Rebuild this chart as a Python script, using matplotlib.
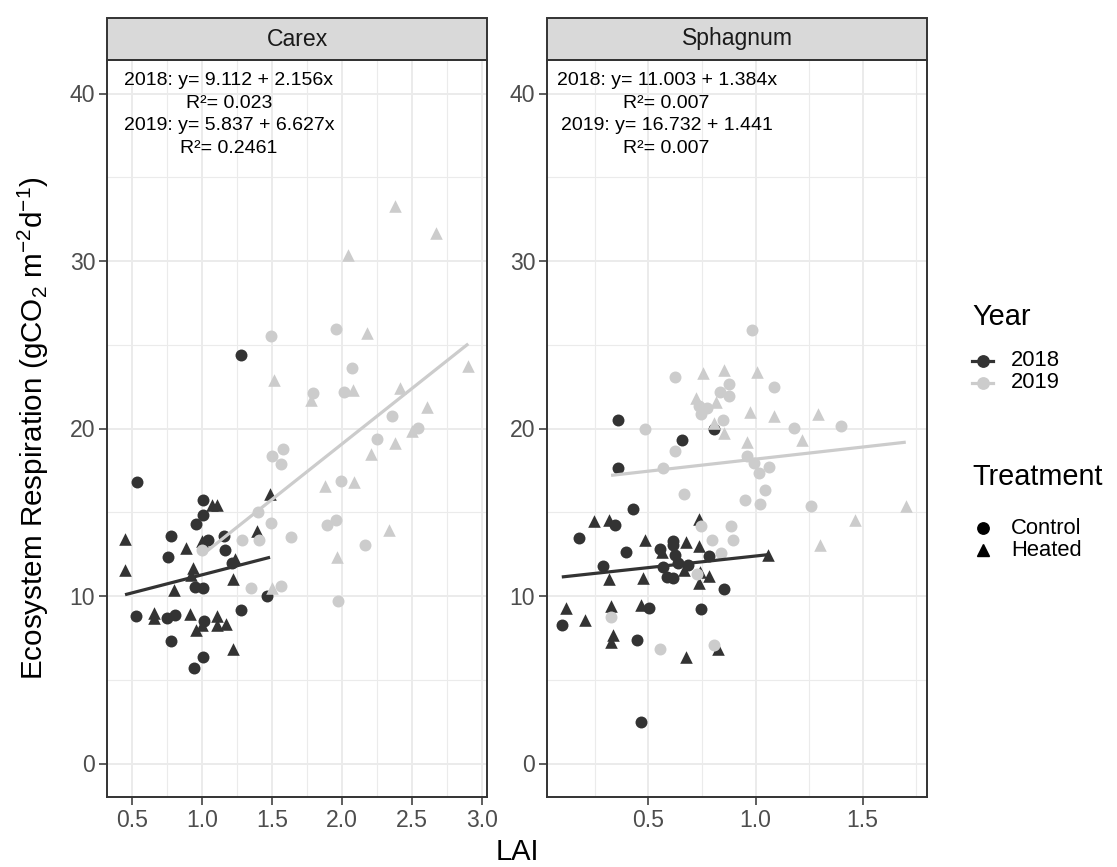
import matplotlib
matplotlib.use("Agg")
import matplotlib.pyplot as plt
from matplotlib.patches import Rectangle
from matplotlib.lines import Line2D
import numpy as np

plt.rcParams['font.family'] = ['Liberation Sans', 'DejaVu Sans']
plt.rcParams['mathtext.fontset'] = 'custom'
plt.rcParams['mathtext.rm'] = 'Liberation Sans'
plt.rcParams['mathtext.it'] = 'Liberation Sans:italic'
plt.rcParams['mathtext.default'] = 'regular'

# ---------------- data ----------------
panels = ["Carex", "Sphagnum"]

# Carex
carex_2018_control_lai = [1.274, 0.536, 1.005, 1.005, 0.955, 0.776, 1.043, 1.155, 1.164, 0.755, 1.214,
                          0.948, 1.006, 1.464, 0.526, 0.746, 0.807, 1.012, 1.274, 0.776, 1.007, 0.939]
carex_2018_control_er = [24.4, 16.8, 15.74, 14.86, 14.3, 13.6, 13.32, 13.56, 12.76, 12.32, 11.96,
                         10.52, 10.46, 9.98, 8.78, 8.7, 8.86, 8.5, 9.16, 7.32, 6.36, 5.72]
carex_2018_heated_lai = [1.067, 1.107, 1.484, 0.448, 1.393, 0.996, 0.884, 1.234, 0.448, 0.936, 0.917,
                         1.221, 0.798, 0.655, 0.655, 0.914, 0.955, 0.995, 1.103, 1.107, 1.169, 1.221]
carex_2018_heated_er = [15.46, 15.46, 16.06, 13.42, 13.86, 13.26, 12.86, 12.2, 11.56, 11.66, 11.26,
                        11.02, 10.36, 9.0, 8.66, 8.9, 7.96, 8.26, 8.8, 8.26, 8.32, 6.86]
carex_2019_control_lai = [1.493, 1.953, 2.071, 1.793, 2.012, 2.353, 2.543, 2.246, 1.498, 1.574, 1.562, 1.993,
                          1.400, 1.489, 1.889, 1.953, 1.281, 1.407, 1.631, 2.164, 0.996, 1.345, 1.560, 1.969]
carex_2019_control_er = [25.55, 25.97, 23.6, 22.1, 22.17, 20.74, 20.02, 19.4, 18.33, 18.78, 17.86, 16.86,
                         15.0, 14.36, 14.26, 14.56, 13.36, 13.36, 13.5, 13.02, 12.76, 10.46, 10.62, 9.72]
carex_2019_heated_lai = [2.174, 1.512, 1.774, 2.079, 2.412, 2.603, 2.496, 2.376, 2.203, 2.084, 1.879,
                         2.900, 2.336, 1.964, 1.496, 2.043, 2.376, 2.669]
carex_2019_heated_er = [25.7, 22.92, 21.7, 22.3, 22.44, 21.27, 19.86, 19.16, 18.48, 16.82, 16.54,
                        23.76, 13.92, 12.32, 10.46, 30.35, 33.3, 31.7]

# Sphagnum
sphag_2018_control_lai = [0.356, 0.805, 0.656, 0.356, 0.426, 0.345, 0.174, 0.617, 0.617, 0.395, 0.555, 0.625,
                          0.785, 0.286, 0.566, 0.637, 0.684, 0.586, 0.617, 0.855, 0.505, 0.745, 0.096, 0.446, 0.465]
sphag_2018_control_er = [20.52, 19.96, 19.32, 17.66, 15.2, 14.26, 13.46, 13.26, 13.02, 12.6, 12.8, 12.42,
                         12.36, 11.82, 11.76, 11.96, 11.84, 11.16, 11.06, 10.4, 9.26, 9.2, 8.26, 7.36, 2.5]
sphag_2018_heated_lai = [0.247, 0.314, 0.734, 0.485, 0.675, 0.734, 0.563, 1.056, 0.664, 0.742, 0.783,
                         0.734, 0.317, 0.474, 0.115, 0.325, 0.465, 0.205, 0.337, 0.326, 0.824, 0.675]
sphag_2018_heated_er = [14.46, 14.56, 14.62, 13.32, 13.24, 12.96, 12.6, 12.46, 11.56, 11.46, 11.2,
                        10.8, 11.0, 11.06, 9.26, 9.4, 9.46, 8.56, 7.66, 7.26, 6.86, 6.36]
sphag_2019_control_lai = [0.984, 0.626, 0.835, 0.877, 0.877, 1.084, 0.734, 0.773, 0.746, 0.846, 1.180,
                          1.399, 0.485, 0.622, 0.566, 0.962, 0.995, 1.014, 1.063, 0.667, 1.045, 0.950,
                          1.019, 1.258, 0.746, 0.886, 0.796, 0.894, 0.838, 0.726, 0.326, 0.555, 0.808]
sphag_2019_control_er = [25.87, 23.09, 22.2, 22.65, 21.95, 22.5, 21.33, 21.2, 20.86, 20.52, 20.02,
                         20.13, 20.0, 18.66, 17.66, 18.36, 17.92, 17.32, 17.72, 16.1, 16.32, 15.76,
                         15.52, 15.4, 14.16, 14.2, 13.32, 13.36, 12.56, 11.32, 8.72, 6.86, 7.06]
sphag_2019_heated_lai = [0.757, 0.855, 1.009, 0.723, 0.816, 0.807, 0.855, 0.975, 1.087, 1.293, 1.216,
                         0.962, 1.701, 1.465, 1.301]
sphag_2019_heated_er = [23.32, 23.52, 23.37, 21.8, 21.57, 20.33, 19.72, 20.97, 20.73, 20.87, 19.32,
                        19.2, 15.36, 14.52, 13.02]

# regression fits (intercept, slope) as reported
carex_fit_2018 = (9.112, 2.156)
carex_fit_2019 = (5.837, 6.627)
sphag_fit_2018 = (11.003, 1.384)
sphag_fit_2019 = (16.732, 1.441)

carex_labels = ["2018: y= 9.112 + 2.156x", "R\u00b2= 0.023", "2019: y= 5.837 + 6.627x", "R\u00b2= 0.2461"]
sphag_labels = ["2018: y= 11.003 + 1.384x", "R\u00b2= 0.007", "2019: y= 16.732 + 1.441", "R\u00b2= 0.007"]
label_y = [40.8, 39.4, 38.1, 36.73]

years = ["2018", "2019"]
treatments = ["Control", "Heated"]
year_colors = {"2018": "#333333", "2019": "#CCCCCC"}
treat_markers = {"Control": "o", "Heated": "^"}

x_ticks_carex = [0.5, 1.0, 1.5, 2.0, 2.5, 3.0]
x_ticks_sphag = [0.5, 1.0, 1.5]
y_ticks = [0, 10, 20, 30, 40]

# ---------------- figure ----------------
W, H = 1117, 867
fig = plt.figure(figsize=(W / 100, H / 100), dpi=100)

def px_axes(left, right, top, bottom):
    return fig.add_axes([left / W, 1 - bottom / H, (right - left) / W, (bottom - top) / H])

ax1 = px_axes(107, 487, 60, 797)
ax2 = px_axes(547, 927, 60, 797)

panel_data = {
    "Carex": {
        ("2018", "Control"): (carex_2018_control_lai, carex_2018_control_er),
        ("2018", "Heated"): (carex_2018_heated_lai, carex_2018_heated_er),
        ("2019", "Control"): (carex_2019_control_lai, carex_2019_control_er),
        ("2019", "Heated"): (carex_2019_heated_lai, carex_2019_heated_er),
    },
    "Sphagnum": {
        ("2018", "Control"): (sphag_2018_control_lai, sphag_2018_control_er),
        ("2018", "Heated"): (sphag_2018_heated_lai, sphag_2018_heated_er),
        ("2019", "Control"): (sphag_2019_control_lai, sphag_2019_control_er),
        ("2019", "Heated"): (sphag_2019_heated_lai, sphag_2019_heated_er),
    },
}
fits = {"Carex": {"2018": carex_fit_2018, "2019": carex_fit_2019},
        "Sphagnum": {"2018": sphag_fit_2018, "2019": sphag_fit_2019}}
labels = {"Carex": carex_labels, "Sphagnum": sphag_labels}
label_x = {"Carex": 1.19, "Sphagnum": 0.585}
xlims = {"Carex": (0.319, 3.034), "Sphagnum": (0.027, 1.80)}
xticks = {"Carex": x_ticks_carex, "Sphagnum": x_ticks_sphag}
xminor = {"Carex": [0.75, 1.25, 1.75, 2.25, 2.75], "Sphagnum": [0.25, 0.75, 1.25, 1.75]}

for ax, name in zip([ax1, ax2], panels):
    ax.set_xlim(*xlims[name])
    ax.set_ylim(-2, 42)
    ax.set_xticks(xticks[name])
    ax.set_xticklabels([f"{v:.1f}" for v in xticks[name]])
    ax.set_xticks(xminor[name], minor=True)
    ax.set_yticks(y_ticks)
    ax.set_yticks([5, 15, 25, 35], minor=True)
    ax.grid(True, which="major", color="#EBEBEB", lw=1.4)
    ax.grid(True, which="minor", color="#EBEBEB", lw=0.8)
    ax.set_axisbelow(True)
    ax.tick_params(which="major", length=5.5, width=1.1, color="#333333",
                   labelsize=16.6, labelcolor="#4D4D4D", pad=3)
    ax.tick_params(which="minor", length=0)
    for sp in ax.spines.values():
        sp.set_color("#333333")
        sp.set_linewidth(1.4)
        sp.set_zorder(5)

    for yr in years:
        for tr in treatments:
            xs, ys = panel_data[name][(yr, tr)]
            ax.scatter(xs, ys, s=74 if tr == "Control" else 82, marker=treat_markers[tr],
                       color=year_colors[yr], linewidths=0, zorder=3)
    for yr in years:
        xs_all = panel_data[name][(yr, "Control")][0] + panel_data[name][(yr, "Heated")][0]
        a, b = fits[name][yr]
        xx = np.array([min(xs_all), max(xs_all)])
        ax.plot(xx, a + b * xx, color=year_colors[yr], lw=2.3, zorder=4, solid_capstyle="butt")

    for s, yv in zip(labels[name], label_y):
        ax.text(label_x[name], yv, s, ha="center", va="center", fontsize=14, color="black", zorder=6)

    # strip
    strip_h = 42 / 737
    ax.add_patch(Rectangle((0, 1), 1, strip_h, transform=ax.transAxes, clip_on=False,
                           facecolor="#D9D9D9", edgecolor="#333333", lw=1.4, zorder=5))
    ax.text(0.5, 1 + strip_h / 2, name, transform=ax.transAxes, ha="center", va="center",
            fontsize=16.6, color="#1A1A1A", zorder=10)

# axis titles
fig.text(33 / W, 1 - 428 / H, "Ecosystem Respiration (gCO$_2$ m$^{-2}$d$^{-1}$)",
         rotation=90, ha="center", va="center", fontsize=21.3)
fig.text(517 / W, 1 - 852 / H, "LAI", ha="center", va="center", fontsize=21)

# legends (manual placement in pixel space)
def fx(p): return p / W
def fy(p): return 1 - p / H

fig.text(fx(972), fy(317), "Year", ha="left", va="center", fontsize=20.8)
for yr, yy in zip(years, [361, 383]):
    fig.add_artist(Line2D([fx(972), fx(993)], [fy(yy), fy(yy)], color=year_colors[yr], lw=2.3))
    fig.add_artist(Line2D([fx(982.5)], [fy(yy)], marker="o", markersize=8.2, color=year_colors[yr], lw=0))
    fig.text(fx(1011), fy(yy), yr, ha="left", va="center", fontsize=15.8)

fig.text(fx(972), fy(477), "Treatment", ha="left", va="center", fontsize=20.8)
for tr, yy in zip(treatments, [528, 550]):
    fig.add_artist(Line2D([fx(982.5)], [fy(yy)], marker=treat_markers[tr],
                          markersize=8.2 if tr == "Control" else 9, color="black", lw=0))
    fig.text(fx(1011), fy(yy), tr, ha="left", va="center", fontsize=15.8)

fig.savefig("out.png", dpi=100)
